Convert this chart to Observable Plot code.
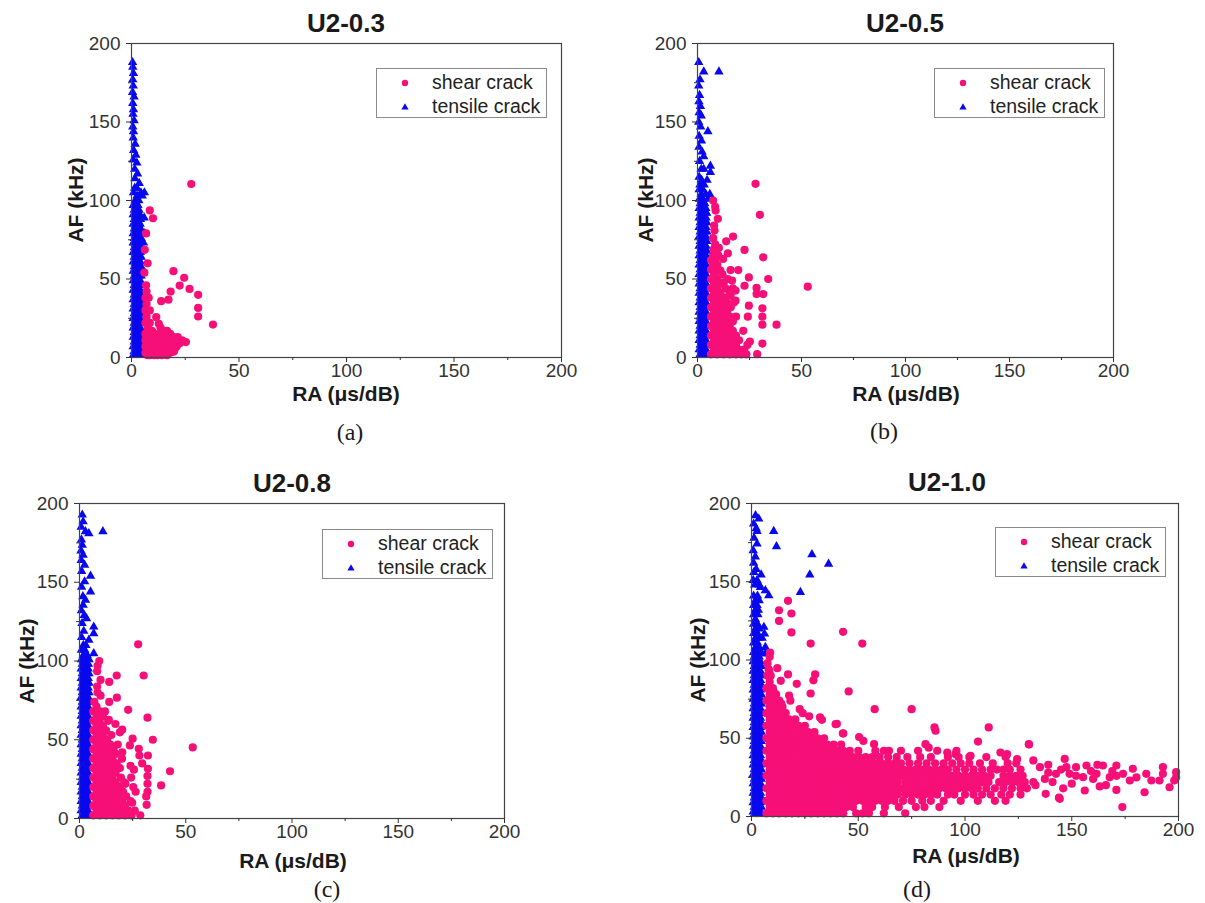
<!DOCTYPE html>
<html>
<head>
<meta charset="utf-8">
<script src="https://cdn.jsdelivr.net/npm/d3@7"></script>
<script src="https://cdn.jsdelivr.net/npm/@observablehq/plot@0.6"></script>
<style>
  body { margin: 0; background: #fff; }
  #root { position: relative; width: 1205px; height: 903px; overflow: hidden; background: #fff;
          font-family: "Liberation Sans", Arial, sans-serif; }
  .abs { position: absolute; white-space: nowrap; line-height: 1; }
  .title { font-weight: bold; font-size: 26px; color: #1a1a1a; transform: translate(-50%, -50%); }
  .xlab { font-weight: bold; font-size: 21px; color: #1a1a1a; transform: translate(-50%, -50%); }
  .ylab { font-weight: bold; font-size: 21px; color: #1a1a1a; transform: translate(-50%, -50%) rotate(-90deg); }
  .cap { font-family: "Liberation Serif", "DejaVu Serif", serif; font-size: 24px; color: #1a1a1a; transform: translate(-50%, -50%); }
  .legend { border: 1px solid #8a8a8a; background: #fff; width: 171px; height: 50px; box-sizing: border-box; }
  .legend .row { position: absolute; left: 0; width: 100%; height: 24px; }
  .legend svg { position: absolute; left: 21px; top: 5px; }
  .legend span { position: absolute; left: 55px; top: 2px; font-size: 19.5px; color: #222; }
</style>
</head>
<body>
<div id="root"></div>
<script>
// Colours
const PINK = "#f70f78";
const BLUE = "#0808f0";

// Axis ticks
const majorTicks = [0, 50, 100, 150, 200];
const minorTicks = [25, 75, 125, 175];

// Series labels
const seriesNames = ["shear crack", "tensile crack"];
const panelTitles = ["U2-0.3", "U2-0.5", "U2-0.8", "U2-1.0"];
const panelCaptions = ["(a)", "(b)", "(c)", "(d)"];
const xLabel = "RA (μs/dB)";
const yLabel = "AF (kHz)";

// Data rows: [AF (kHz), RA values (μs/dB) of the points at that AF ...]
const tensileA = [
 [188,0.5],[185,0.6],[181,0.9],[177,0.6],[173,0.8],[169,0.5],[166,1.2],[162,0.6],[158,0.9],[155,0.7],[151,1.2],[147,0.6],
 [144,0.9],[140,0.8],[136,1.7],[132,1.0],[129,2.0],[126,0.8],[124,2.5],[120,1.5],[117,2.8],[114,1.6],[111,3.6],[108,1.5,2.5],
 [105,0.9,4.4,6.0],[103,2.6,5.0],[100,1.7,3.4],[97,0.8,1.9,3.0],[94,1.3,2.4,3.5],[91,0.8,1.9,3.0,3.9],[89,5.9],[88,1.3,2.4,3.5,4.2],
 [85,0.8,1.9,3.0,4.0],[82,1.3,2.4,3.5,4.3],[79,0.8,1.9,3.0,4.0,6.2],[76,1.3,2.4,3.5,4.5],[73,0.8,1.9,3.0,4.1,5.6],
 [70,1.3,2.4,3.5,4.5],[67,0.8,1.9,3.0,4.1],[64,1.3,2.4,3.5,4.5],[61,0.8,1.9,3.0,4.1],[58,1.3,2.4,3.5,4.5],
 [55,0.8,1.9,3.0,4.1],[52,1.3,2.4,3.5,4.5],[49,0.8,1.9,3.0,4.1],[46,1.3,2.4,3.5,4.5],[43,0.8,1.9,3.0,4.1],
 [40,1.3,2.4,3.5,4.5],[37,0.8,1.9,3.0,4.1],[34,1.3,2.4,3.5,4.5],[31,0.8,1.9,3.0,4.1],[28,1.3,2.4,3.5,4.5],
 [25,0.8,1.9,3.0,4.1],[22,1.3,2.4,3.5,4.5],[19,0.8,1.9,3.0,4.1],[16,1.3,2.4,3.5,4.5],[13,0.8,1.9,3.0,4.1],
 [10,1.3,2.4,3.5,4.5],[7,0.8,1.9,3.0,4.1],[4,1.3,2.4,3.5,4.5],[1.5,0.8,1.9,3.0,4.1]
];
const shearA = [
 [110.5,27.8],[93.7,8.5],[88.7,10.0],[79,6.8],[68.6,6.2],[60,7.5],[55,19.5],[54,6.0],[50.8,24.5],[46,6.8],[45.8,22.4],
 [43.7,27],[42,18.2,7.0],[39.9,31],[38,6.5,8.0],[36.8,17.2],[35.9,13.8],[34,7.0],[31.6,31],[30,6.5,8.5],[26.1,31],[26,7.0],
 [25.7,11.5],[22,6.5,8.5],[21.5,12.7],[21,37.9],[19,7.5,13.5],[17,9.5,15,16.5],[15,6.5,11,13.5,18],
 [13,8.5,10,12,14.5,16,19.5,21.5],[11,6.5,9.5,11.5,13,16,17.5,20.5,23.5],[9.8,25.3],[9,8,10.5,12,14,15.5,18.5,22.5],
 [7,6.5,9,11,13,16.5,19,21],[5,8,10,12.5,14,15.5,17.5,20],[3.8,19.7],[3,6.5,9.5,11,13,15,18],[1.5,7.5,8.5,10.5,12,14,16.5]
];

const tensileB = [
 [188,0.6],[182,3.0,10.3],[177,1.2],[173,0.6],[167,1.0],[163,0.7],[160,1.4],[156,0.8],[154,1.8],[150,0.6],[147,1.5],
 [144,5.0],[141,0.8],[138,1.9],[134,0.7],[131,2.2],[128,3.0],[125,1.0],[122,6.2],[120,1.8,3.0],[118,6.2],[115,0.8],
 [113,4.6,2.0],[110,1.2,3.2],[107,0.8,2.5],[104,5.9,1.8,4.0],[101,0.9,2.6,5.0],[98,1.3,2.4,3.5],[95,0.8,1.9,3.0,4.0],
 [92,1.3,2.4,3.5,4.4],[89,0.8,1.9,3.0,4.1],[86,1.3,2.4,3.5,4.5],[83,0.8,1.9,3.0,4.1],[80,1.3,2.4,3.5,4.5],
 [77,0.8,1.9,3.0,4.1],[74,1.3,2.4,3.5,4.5],[71,0.8,1.9,3.0,4.1],[68,1.3,2.4,3.5,4.5],[65,0.8,1.9,3.0,4.1],
 [62,1.3,2.4,3.5,4.5],[59,0.8,1.9,3.0,4.1],[56,1.3,2.4,3.5,4.5],[53,0.8,1.9,3.0,4.1],[50,1.3,2.4,3.5,4.5],
 [47,0.8,1.9,3.0,4.1],[44,1.3,2.4,3.5,4.5],[41,0.8,1.9,3.0,4.1],[38,1.3,2.4,3.5,4.5],[35,0.8,1.9,3.0,4.1],
 [32,1.3,2.4,3.5,4.5],[29,0.8,1.9,3.0,4.1],[26,1.3,2.4,3.5,4.5],[23,0.8,1.9,3.0,4.1],[20,1.3,2.4,3.5,4.5],
 [17,0.8,1.9,3.0,4.1],[14,1.3,2.4,3.5,4.5],[11,0.8,1.9,3.0,4.1],[8,1.3,2.4,3.5,4.5],[5,0.8,1.9,3.0,4.1],[2,1.3,2.4,3.5,4.5]
];
const shearB = [
 [110.6,27.9],[100,7.5],[96,8.5],[93.6,8.7],[90.9,30],[88.3,9.8],[84,8.0],[80.9,8.2],[77,17.1],[76,7.5],[74,13.8],
 [72,8.5],[69.8,10.3],[69,7.9],[68.5,22.6],[66.4,14.6],[65,7.5,10],[63.8,31.6],[62.8,12.3],[62,6.5,8.5],[59,7.5,9.5],
 [56,6.5,10],[55.7,19.6,15.9],[55.3,11],[53,8,12],[51,24.7],[50,6.5,9.5,14.5,34],[49,16.6],[47.9,12.7],[47,8,11],
 [45.7,22.6],[45.1,53],[44.3,28.4],[44,6.5,9.5,13.5,17],[42.6,18.3],[41,8,11,15.5],[40.4,31.6,28.4],[39.4,15.9],
 [38,6.5,9.5,13],[36.2,18.3],[35,8,11,14,17.5],[33,24.7],[32,6.5,9.5,12.5,16],[31.3,31.2],[29.8,14.3],[29,8,11,14],
 [26,6.5,9.5,12.5,15.5,18.5,24.2,31.2],[23,8,11,14,17],[20.9,38,31.2],[20,6.5,9.5,12.5,15.5],[17,8,11,14,17,22],
 [14,6.5,9.5,12.5,15.5,18.5],[11,8,11,14,17,20],[10.2,25.2],[8.9,31.2],[8,6.5,9.5,12.5,15.5,18.5,24],
 [5,8,11,14,17,20,22.5],[2.1,28.7],[2,6.5,9.5,12.5,15.5,18.5,21,23.5]
];

const tensileC = [
 [192.8,1.3],[188.5,1.7],[185,0.8],[182.2,2.8,11.0],[181,4.4],[177,0.9],[173.7,1.3],[170,0.7],[167.3,1.7],[164,0.8],
 [161,2.4],[157,1.0],[154,5.2],[150.4,2.4],[147,1.0],[144,5.2],[141,1.6],[138.7,2.8],[135.5,1.7],[132,0.9],[129,2.2],
 [127,3.3],[124,1.2],[121.7,6.7],[119,2.0],[117.5,6.7],[115,1.0],[113.3,4.4],[110,1.8,3.0],[107,0.9,2.5],[104.8,6.7],
 [103.7,3.6,1.8],[101,0.9,2.5,4.5],[98,1.3,2.4,3.5,4.2],[95,0.8,1.9,3.0,4.1],[92,1.3,2.4,3.5,4.5],[89,0.8,1.9,3.0,4.1],
 [86,1.3,2.4,3.5,4.5],[83,0.8,1.9,3.0,4.1],[80,1.3,2.4,3.5,4.5],[77,0.8,1.9,3.0,4.1],[74,1.3,2.4,3.5,4.5],
 [71,0.8,1.9,3.0,4.1],[68,1.3,2.4,3.5,4.5],[65,0.8,1.9,3.0,4.1],[62,1.3,2.4,3.5,4.5],[59,0.8,1.9,3.0,4.1],
 [56,1.3,2.4,3.5,4.5],[53,0.8,1.9,3.0,4.1],[50,1.3,2.4,3.5,4.5],[47,0.8,1.9,3.0,4.1],[44,1.3,2.4,3.5,4.5],
 [41,0.8,1.9,3.0,4.1],[38,1.3,2.4,3.5,4.5],[35,0.8,1.9,3.0,4.1],[32,1.3,2.4,3.5,4.5],[29,0.8,1.9,3.0,4.1],
 [26,1.3,2.4,3.5,4.5],[23,0.8,1.9,3.0,4.1],[20,1.3,2.4,3.5,4.5],[17,0.8,1.9,3.0,4.1],[14,1.3,2.4,3.5,4.5],
 [11,0.8,1.9,3.0,4.1],[8,1.3,2.4,3.5,4.5],[5,0.8,1.9,3.0,4.1],[2,1.3,2.4,3.5,4.5]
];
const shearC = [
 [110.6,27.6],[100,9.3],[97,8.5],[93.5,8.3],[90.8,17.5,30.2],[88,9.9],[86.7,14.0],[83.8,8.3],[80,8.5],[78,9.9],
 [76.7,17.6],[74,7.0,14.0],[71,8],[69,22.9],[68,6.5,9.5,12],[65,8,11],[64,32.0],[62.6,13.8],[62,6.5,9.5,13.5],
 [60,16.9],[59,8,11],[56.4,20.1],[56,6.5,9.5,12.5],[54.7,19],[53,8,11,15],[50.7,25.0],[50,6.5,9.5,13,34.5],
 [47,8,11,14.5,18],[46.4,23.7],[45.1,53.3],[44.3,27.9],[44,6.5,9.5,12.5,16],[41,8,11,14,17],[42,20.1],[40,32.2,28.2],
 [38,6.5,9.5,12.5,15.5,20],[35,8,11,14,17.5,29.5],[33.5,24],[31.6,32.2],[32,6.5,9.5,12.5,15.5,19],[31,25.6],
 [30,42.6],[29,8,11,14,17],[27,32],[26,6.5,9.5,12.5,15.5,19.5,24.3],[23,8,11,14,17,21],[22,32,21.6],[21,38.4],
 [20,6.5,9.5,12.5,15.5,19,25.3],[17,8,11,14,17,20.5,26.4,32],[14,6.5,9.5,12.5,15.5,18.5,22,31.4],
 [11,8,11,14,17,20,24],[10,24.8],[8.7,31.6],[8,6.5,9.5,12.5,15.5,18.5,21.5],[5,8,11,14,17,20,23,26],
 [2,6.5,9.5,12.5,15.5,18.5,21.5,24.5,28.6]
];

const tensileD = [
 [192.3,1.9],[190.2,3.4],[187,1.0],[184,2.2],[182.3,2.6,10.4],[178,1.2],[174.2,2.6],[172.5,11.7],[170,0.8],[167.4,28.3],
 [166,1.8],[162,1.0],[161.4,36.1],[158,2.2],[156,1.1],[154.5,4.5,27.3],[151,0.8,2.6],[148,1.5,3.6],[146.5,4.2],
 [144.4,6.5],[143.3,22.9],[141.2,8.1],[141,1.0,2.8],[138,1.8,3.6],[135,1.0,2.6],[132,1.8,3.2],[129,1.0,3.0],[126,1.8],
 [123,1.0,2.8],[121,5.8],[120,1.8,3.6],[117,1.0,2.8],[116.7,6.1],[114,1.8,3.6,5.0],[111,1.0,2.8],[108.2,6.5],
 [108,1.8,3.6],[105,1.0,2.8,4.6],[104,6.5],[102,1.3,2.4,3.6],[99,0.8,1.9,3.0,4.2],[96,1.3,2.4,3.5,4.6],
 [93,0.8,1.9,3.0,4.2],[90,1.3,2.4,3.5,4.6],[87,0.8,1.9,3.0,4.2],[84,1.3,2.4,3.5,4.6],[81,0.8,1.9,3.0,4.2],
 [78,1.3,2.4,3.5,4.6],[75,0.8,1.9,3.0,4.2],[72,1.3,2.4,3.5,4.6],[69,0.8,1.9,3.0,4.2],[66,1.3,2.4,3.5,4.6],
 [63,0.8,1.9,3.0,4.2],[60,1.3,2.4,3.5,4.6],[57,0.8,1.9,3.0,4.2],[54,1.3,2.4,3.5,4.6],[51,0.8,1.9,3.0,4.2],
 [48,1.3,2.4,3.5,4.6],[45,0.8,1.9,3.0,4.2],[42,1.3,2.4,3.5,4.6],[39,0.8,1.9,3.0,4.2],[36,1.3,2.4,3.5,4.6],
 [33,0.8,1.9,3.0,4.2],[30,1.3,2.4,3.5,4.6],[27,0.8,1.9,3.0,4.2],[24,1.3,2.4,3.5,4.6],[21,0.8,1.9,3.0,4.2],
 [18,1.3,2.4,3.5,4.6],[15,0.8,1.9,3.0,4.2],[12,1.3,2.4,3.5,4.6],[9,0.8,1.9,3.0,4.2],[6,1.3,2.4,3.5,4.6],
 [3,0.8,1.9,3.0,4.2],[1.5,1.3,2.4,3.5,4.6]
];
const shearD = [
 // scattered points above the dense cloud
 [137.8,17.1],[131.8,12.9],[129.7,18.7],[125,12.9],[118,42.9],[117.6,18.7],[110.5,51.9,27.7],[104.8,8.7],[102,8.5],
 [98,7.5],[94.8,12.1],[94,8],[93,8.3],[90.8,17.1,29.8],[90,7.5,9],[87,29],[86.7,13.7],[86,8.5],[84.8,21.2],[82,7,10],
 [80,10.3],[79.9,45.5],[78.6,27.7],[78,8.5,11.5],[77.3,17.6],[74,7,10,13,18.2],[72,14],[70,8.5,11.5,14.5],
 [68.6,22.6,57.7,75],[66,7,10,13,16,24],[64,27],[63.3,32.1],[62,8.5,11.5,14.5,17.5,20.5],[61.8,33],[59.2,40],[59,39.4],
 [58,7,10,13,16,19,22,25],[56.9,85.7,111.1],[54.8,86.2],[54,8.5,11.5,14.5,17.5,20.5,23.5,26.5,29.5],[53.2,42.8],[53,43],
 [50.8,50.4],[50,7,10,13,16,19,22,25,28,31,34],[48.3,52.4],[47.9,106.1],
 [46.2,129.9,57.4,81.5],[46,8.5,11.5,14.5,17.5,20.5,23.5,26.5,29.5,32.5,35.5,38.5,42],[44,83],
 [42,7,10,13,16,19,22,25,28,31,34,37,40,43,46,50,58,62,64.4,70,78,87,96],
 [40.9,91.7,116.6],[39.8,95.6,119.7],[38.8,102.6],
 [38,8.5,11.5,14.5,17.5,20.5,23.5,26.5,29.5,32.5,35.5,38.5,41.5,44.5,47.5,50.5,53.5,56.5,60,64,68,73,79,84,92,97,102,110,119],
 [36.6,124.4],
 [34,7,10,13,16,19,22,25,28,31,34,37,40,43,46,49,52,55,58,61,64,67,70,74,78,82,86,90,94,98,102,107,113,120,124],
 [30,8.5,11.5,14.5,17.5,20.5,23.5,26.5,29.5,32.5,35.5,38.5,41.5,44.5,47.5,50.5,53.5,56.5,59.5,62.5,65.5,68.5,
  71,74,77,80,83,86,89,92,96,100,104,108,112,115,118,121,126],
 [26,7,10,13,16,19,22,25,28,31,34,37,40,43,46,49,52,55,58,61,64,67,70,
  73,76,79,82,85,88,91,94,97,100,103,106,109,112,118,121,124,127],
 [22,8.5,11.5,14.5,17.5,20.5,23.5,26.5,29.5,32.5,35.5,38.5,41.5,44.5,47.5,50.5,53.5,56.5,59.5,62.5,65.5,68.5,
  72,75,78,81,84,87,90,93,96,99,102,105,108,111,116,119,122,125,128,132],
 [18,7,10,13,16,19,22,25,28,31,34,37,40,43,46,49,52,55,58,61,64,67,70,
  73,76,79,82,85,88,91,94,97,100,103,106,110,114,118,122,126,129],
 [14,8.5,11.5,14.5,17.5,20.5,23.5,26.5,29.5,32.5,35.5,38.5,41.5,44.5,47.5,50.5,53.5,56.5,59.5,62.5,65.5,68.5,
  72,75,78,81,84,87,92,95,100,104,108,112,117,121,126],
 [10,7,10,13,16,19,22,25,28,31,34,37,40,43,46,49,52,55,58,61,64,67,71,75,80,84,90,98,106,114,119],
 [6,8.5,11.5,14.5,17.5,20.5,23.5,26.5,29.5,32.5,35.5,38.5,41.5,44.5,47.5,53.5,56.5,62.5,69,77,81,88],
 [2,7,10,13,16,19,22,25,28,31,34,37,40,43,49,52,55,62,72],
 // sparse tail at large RA
 [46,130],[35.8,132],[33,139],[31.5,135.1],[30,145],[28,139],[27.3,142.6],[26,152],[24,137.4],[22,141],[21,150],
 [20,133],[18,146],[14.5,137.8],[12,144],[11.3,144.4],[36.8,146.7],[31.5,147.5,152],[27.3,149],[25.1,155.3],
 [16.6,156.1],[32.6,156.9],[29,159],[24,160],[27.3,161.6],[33,162],[19.2,163.1],[32.6,164.6],[20,166],[25.1,167.8],
 [29,169],[32.6,170.9],[17,170.9],[26,171],[6,173.7],[27.3,174],[23,177.2],[30.5,178.6],[25,180.3],[15.5,184.1],
 [27.3,184.9],[23,187.3],[23,191.1],[31.5,192.7],[27.3,192.7],[18.7,195.8],[23,198],[28.3,198.9],[25.1,198.9]
];

function expand(rows) {
  const out = [];
  for (const [af, ...ras] of rows) for (const ra of ras) out.push({ra, af});
  return out;
}

const panels = [
  {frame: [131, 43, 561, 357], shear: shearA, tensile: tensileA, title: [346, 23], xlab: [346, 393], ylab: [75, 200], legend: [376, 68], cap: [350, 432]},
  {frame: [697, 43, 1113, 357], shear: shearB, tensile: tensileB, title: [905, 23], xlab: [906, 393], ylab: [645, 200], legend: [934, 68], cap: [884, 431]},
  {frame: [79, 503, 504, 818], shear: shearC, tensile: tensileC, title: [292, 483], xlab: [293, 860], ylab: [26, 661], legend: [322, 529], cap: [327, 889]},
  {frame: [751, 503, 1178, 816], shear: shearD, tensile: tensileD, title: [947, 482], xlab: [966, 855], ylab: [697, 660], legend: [995, 527], cap: [917, 889]}
];

const root = document.getElementById("root");

function addText(cls, text, [x, y]) {
  const d = document.createElement("div");
  d.className = "abs " + cls;
  d.textContent = text;
  d.style.left = x + "px";
  d.style.top = y + "px";
  root.appendChild(d);
}

function addLegend([x, y]) {
  const lg = document.createElement("div");
  lg.className = "abs legend";
  lg.style.left = x + "px";
  lg.style.top = y + "px";
  const symbols = [
    `<svg width="14" height="14"><circle cx="7" cy="7" r="3.2" fill="${PINK}"/></svg>`,
    `<svg width="14" height="14"><path d="M7,3.2L10.6,9.4L3.4,9.4Z" fill="${BLUE}"/></svg>`
  ];
  seriesNames.forEach((name, i) => {
    const row = document.createElement("div");
    row.className = "row";
    row.style.top = (i === 0 ? 2 : 26) + "px";
    row.innerHTML = symbols[i] + `<span>${name}</span>`;
    lg.appendChild(row);
  });
  root.appendChild(lg);
}

panels.forEach((p, i) => {
  const [l, t, r, b] = p.frame;
  const mL = 60, mR = 14, mT = 14, mB = 34;
  const chart = Plot.plot({
    width: r - l + mL + mR,
    height: b - t + mT + mB,
    marginLeft: mL, marginRight: mR, marginTop: mT, marginBottom: mB,
    x: {domain: [0, 200]},
    y: {domain: [0, 200]},
    style: {fontFamily: "'Liberation Sans', Arial, sans-serif", fontSize: "19px", color: "#333", background: "transparent", overflow: "visible"},
    marks: [
      Plot.dot(expand(p.tensile), {x: "ra", y: "af", symbol: "triangle", r: 3.5, fill: BLUE, stroke: "none"}),
      Plot.dot(expand(p.shear), {x: "ra", y: "af", r: 4.1, fill: PINK, stroke: "none"}),
      Plot.frame({stroke: "#444", strokeWidth: 1.2}),
      Plot.axisX({ticks: majorTicks, tickSize: 5, tickPadding: 1, label: null}),
      Plot.axisX({ticks: minorTicks, tickSize: 3, tickFormat: () => "", label: null}),
      Plot.axisY({ticks: majorTicks, tickSize: 5, tickPadding: 6, label: null}),
      Plot.axisY({ticks: minorTicks, tickSize: 3, tickFormat: () => "", label: null})
    ]
  });
  chart.style.position = "absolute";
  chart.style.left = (l - mL) + "px";
  chart.style.top = (t - mT) + "px";
  chart.style.maxWidth = "none";
  root.appendChild(chart);

  addText("title", panelTitles[i], p.title);
  addText("xlab", xLabel, p.xlab);
  addText("ylab", yLabel, p.ylab);
  addText("cap", panelCaptions[i], p.cap);
  addLegend(p.legend);
});
</script>
</body>
</html>
